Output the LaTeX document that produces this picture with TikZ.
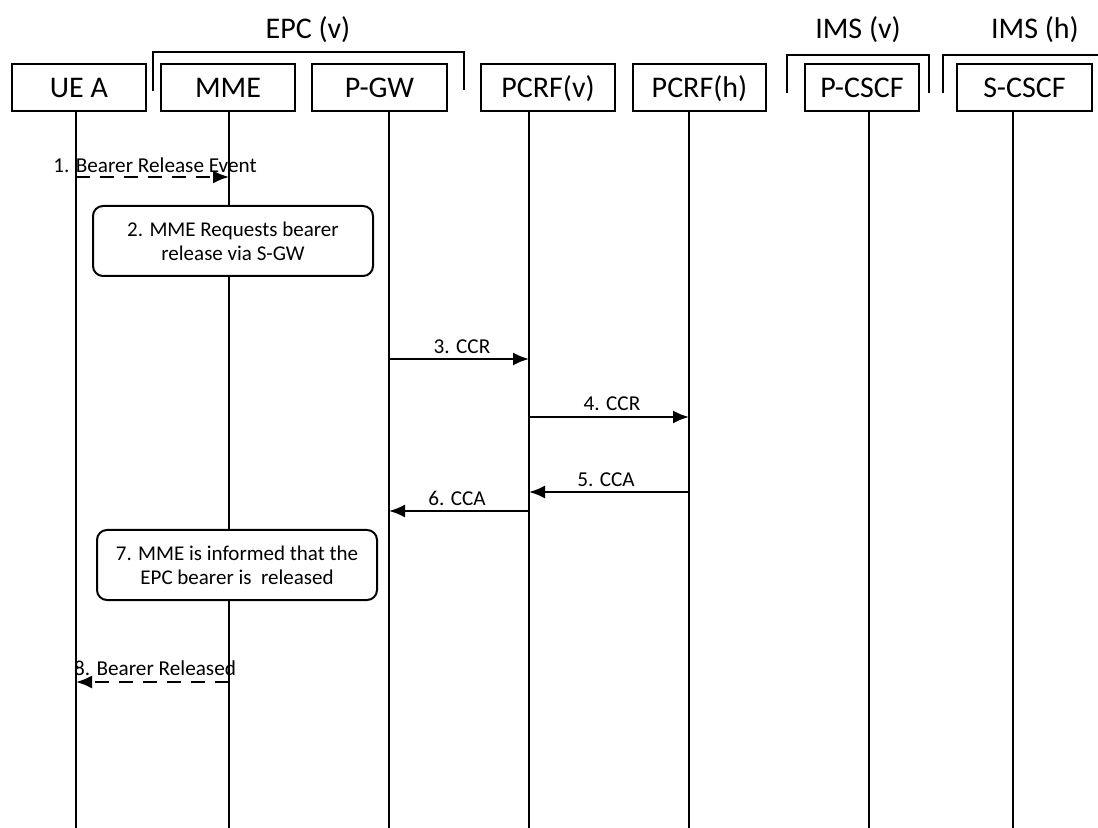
\documentclass[tikz,border=0pt]{standalone}
\usepackage{fontspec}
\setmainfont{Carlito}
\usetikzlibrary{arrows.meta}
\begin{document}
\begin{tikzpicture}[x=0.5pt,y=-0.5pt,
  hdr/.style={draw,line width=1pt,fill=white,minimum height=23.5pt,text height=10.5pt,text depth=0pt,inner sep=0pt,font=\fontsize{15}{18}\selectfont},
  grp/.style={font=\fontsize{15}{18}\selectfont,inner sep=0pt},
  life/.style={line width=1pt},
  brk/.style={line width=1pt},
  msg/.style={line width=1pt,-{Latex[length=8pt,width=6.5pt]}},
  dmsg/.style={msg,dash pattern=on 7pt off 5pt},
  lbl/.style={font=\fontsize{10.6}{12}\selectfont,inner sep=0pt},
  act/.style={draw,line width=1pt,fill=white,rounded corners=5pt,minimum width=140pt,minimum height=35pt,align=center,inner sep=0pt,font=\fontsize{10.5}{12}\selectfont}]
\useasboundingbox (0,0) rectangle (1098,828);
% headers
\node[hdr,minimum width=67pt] (ue) at (79,87.5) {UE A};
\node[hdr,minimum width=67pt] (mme) at (228,87.5) {MME};
\node[hdr,minimum width=67.5pt] (pgw) at (379.5,87.5) {P-GW};
\node[hdr,minimum width=67pt] (pcrfv) at (548,87.5) {PCRF(v)};
\node[hdr,minimum width=66.5pt] (pcrfh) at (699.5,87.5) {PCRF(h)};
\node[hdr,minimum width=57pt] (pcscf) at (862,87.5) {P-CSCF};
\node[hdr,minimum width=67.5pt] (scscf) at (1024.5,87.5) {S-CSCF};
% groups
\node[grp] (epc) at (308,30) {EPC (v)};
\node[grp] (imsv) at (858,30) {IMS (v)};
\node[grp] (imsh) at (1035,30) {IMS (h)};
\draw[brk] (153,91) -- (153,52) -- (464,52) -- (464,90);
\draw[brk] (787,93) -- (787,55) -- (929,55) -- (929,93);
\draw[brk] (943,93) -- (943,55) -- (1100,55);
% lifeline ends
\coordinate (ueE) at (76,830);
\coordinate (mmeE) at (229,830);
\coordinate (pgwE) at (389,830);
\coordinate (pcrfvE) at (529,830);
\coordinate (pcrfhE) at (689,830);
\coordinate (pcscfE) at (869,830);
\coordinate (scscfE) at (1013,830);
\draw[life] (ueE |- ue.south) -- (ueE);
\draw[life] (mmeE |- mme.south) -- (mmeE);
\draw[life] (pgwE |- pgw.south) -- (pgwE);
\draw[life] (pcrfvE |- pcrfv.south) -- (pcrfvE);
\draw[life] (pcrfhE |- pcrfh.south) -- (pcrfhE);
\draw[life] (pcscfE |- pcscf.south) -- (pcscfE);
\draw[life] (scscfE |- scscf.south) -- (scscfE);
% message rows
\coordinate (r1) at (0,177);
\coordinate (r3) at (0,359);
\coordinate (r4) at (0,417);
\coordinate (r5) at (0,492);
\coordinate (r6) at (0,511);
\coordinate (r8) at (0,682);
% 1
\draw[dmsg] (ueE |- r1) -- (mmeE |- r1);
\node[lbl] (l1) at (155,165) {1. Bearer Release Event};
% 2
\node[act] (a2) at (233,241) {2. MME Requests bearer\\release via S-GW};
% 3
\draw[msg] (pgwE |- r3) -- (pcrfvE |- r3);
\node[lbl] (l3) at (462,347) {3. CCR};
% 4
\draw[msg] (pcrfvE |- r4) -- (pcrfhE |- r4);
\node[lbl] (l4) at (612,404) {4. CCR};
% 5
\draw[msg] (pcrfhE |- r5) -- (pcrfvE |- r5);
\node[lbl] (l5) at (606,480) {5. CCA};
% 6
\draw[msg] (pcrfvE |- r6) -- (pgwE |- r6);
\node[lbl] (l6) at (457,498) {6. CCA};
% 7
\node[act] (a7) at (237,565) {7. MME is informed that the\\EPC bearer is~ released};
% 8
\draw[dmsg] (mmeE |- r8) -- (ueE |- r8);
\node[lbl] (l8) at (155,668) {8. Bearer Released};
\end{tikzpicture}
\end{document}
